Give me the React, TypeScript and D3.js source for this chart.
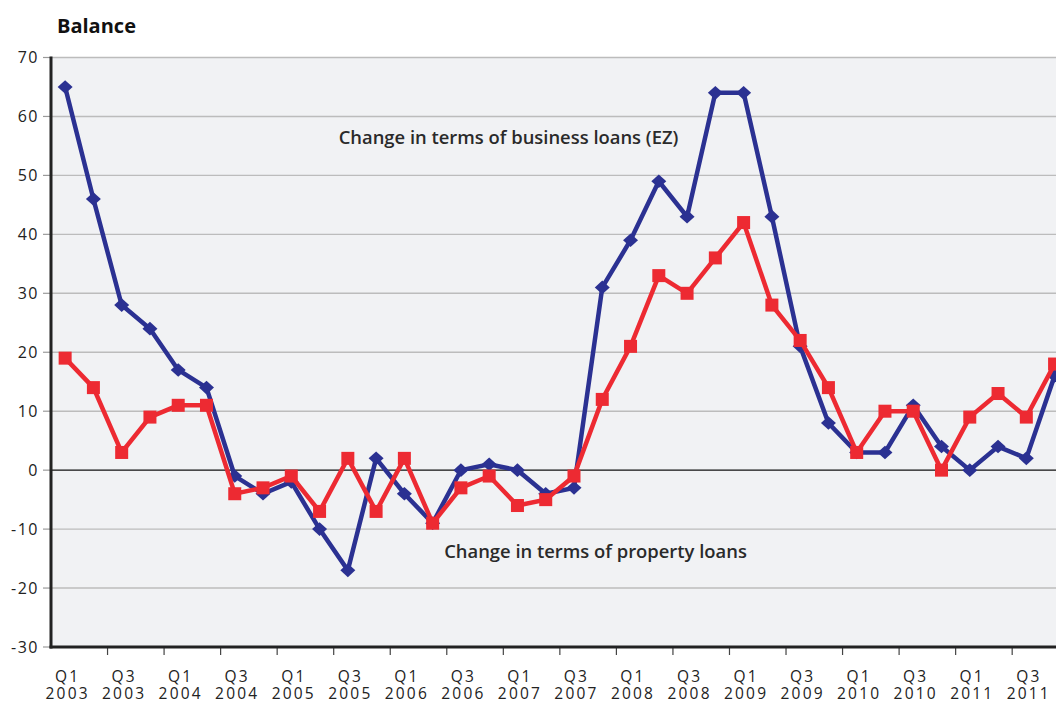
import React from 'react';
import * as d3 from 'd3';

const quarters = [
  'Q1 2003', 'Q2 2003', 'Q3 2003', 'Q4 2003',
  'Q1 2004', 'Q2 2004', 'Q3 2004', 'Q4 2004',
  'Q1 2005', 'Q2 2005', 'Q3 2005', 'Q4 2005',
  'Q1 2006', 'Q2 2006', 'Q3 2006', 'Q4 2006',
  'Q1 2007', 'Q2 2007', 'Q3 2007', 'Q4 2007',
  'Q1 2008', 'Q2 2008', 'Q3 2008', 'Q4 2008',
  'Q1 2009', 'Q2 2009', 'Q3 2009', 'Q4 2009',
  'Q1 2010', 'Q2 2010', 'Q3 2010', 'Q4 2010',
  'Q1 2011', 'Q2 2011', 'Q3 2011', 'Q4 2011',
];

const businessLoans = [
  65, 46, 28, 24,
  17, 14, -1, -4,
  -2, -10, -17, 2,
  -4, -9, 0, 1,
  0, -4, -3, 31,
  39, 49, 43, 64,
  64, 43, 21, 8,
  3, 3, 11, 4,
  0, 4, 2, 16,
];

const propertyLoans = [
  19, 14, 3, 9,
  11, 11, -4, -3,
  -1, -7, 2, -7,
  2, -9, -3, -1,
  -6, -5, -1, 12,
  21, 33, 30, 36,
  42, 28, 22, 14,
  3, 10, 10, 0,
  9, 13, 9, 18,
];

const xTickLabels = [
  'Q1 2003', 'Q3 2003', 'Q1 2004', 'Q3 2004', 'Q1 2005', 'Q3 2005',
  'Q1 2006', 'Q3 2006', 'Q1 2007', 'Q3 2007', 'Q1 2008', 'Q3 2008',
  'Q1 2009', 'Q3 2009', 'Q1 2010', 'Q3 2010', 'Q1 2011', 'Q3 2011',
];

const yTicks = [70, 60, 50, 40, 30, 20, 10, 0, -10, -20, -30];

const W = 1056;
const H = 702;
const left = 51;
const bandW = 28.27;
const right = left + bandW * quarters.length;
const top = 57.5;
const bottom = 647;

const BLUE = '#2b3192';
const RED = '#ed2a32';
const FONT = '"Open Sans", "DejaVu Sans", sans-serif';

export default function App() {
  const x = d3.scaleBand<string>().domain(quarters).range([left, right]).paddingInner(0).paddingOuter(0);
  const y = d3.scaleLinear().domain([-30, 70]).range([bottom, top]);
  const cx = (q: string) => (x(q) as number) + x.bandwidth() / 2;

  const line = d3
    .line<number>()
    .x((_, i) => cx(quarters[i]))
    .y((d) => y(d));

  const diamond = (px: number, py: number) => {
    const hw = 7.5;
    const hh = 6.8;
    return `M${px},${py - hh}L${px + hw},${py}L${px},${py + hh}L${px - hw},${py}Z`;
  };

  const boundaryTicks = d3.range(2, quarters.length, 2).map((i) => x(quarters[i]) as number);

  return (
    <svg width={W} height={H} style={{ position: 'absolute', left: 0, top: 0 }} fontFamily={FONT}>
      <rect x={0} y={0} width={W} height={H} fill="#ffffff" />
      <rect x={left} y={top} width={right - left} height={bottom - top} fill="#f1f2f4" />

      {/* grid lines */}
      {yTicks.map((t) =>
        t === 0 || t === -30 ? null : (
          <line key={'g' + t} x1={left} x2={right} y1={y(t)} y2={y(t)} stroke="#bcbcbc" strokeWidth={1.4} />
        )
      )}
      <line x1={left} x2={right} y1={y(0)} y2={y(0)} stroke="#111" strokeWidth={1.1} />

      {/* y ticks and labels */}
      {yTicks.map((t) => (
        <g key={'y' + t}>
          <line x1={43} x2={left} y1={y(t)} y2={y(t)} stroke="#9a9a9a" strokeWidth={1.2} />
          <text
            x={39}
            y={y(t)}
            dy="0.36em"
            textAnchor="end"
            fontSize={16}
            letterSpacing={1.5}
            fill="#222"
          >
            {String(t)}
          </text>
        </g>
      ))}

      {/* x ticks */}
      {boundaryTicks.map((bx, i) => (
        <line key={'xt' + i} x1={bx} x2={bx} y1={bottom} y2={bottom + 8} stroke="#444" strokeWidth={1.2} />
      ))}

      {/* x labels */}
      {xTickLabels.map((lab) => {
        const [q, yr] = lab.split(' ');
        const px = cx(lab) + 2.5;
        return (
          <g key={lab}>
            <text x={px} y={681.5} textAnchor="middle" fontSize={15.5} letterSpacing={2.2} fill="#222">
              {q}
            </text>
            <text x={px} y={698.5} textAnchor="middle" fontSize={15.5} letterSpacing={2.2} fill="#222">
              {yr}
            </text>
          </g>
        );
      })}

      {/* axes */}
      <line x1={left} x2={left} y1={top - 1} y2={bottom + 1.5} stroke="#222" strokeWidth={3} />
      <line x1={left - 1.5} x2={right} y1={bottom} y2={bottom} stroke="#222" strokeWidth={3} />

      {/* business loans */}
      <path d={line(businessLoans) || ''} fill="none" stroke={BLUE} strokeWidth={4.5} strokeLinejoin="miter" />
      {businessLoans.map((v, i) => (
        <path key={'b' + i} d={diamond(cx(quarters[i]), y(v))} fill={BLUE} />
      ))}

      {/* property loans */}
      <path d={line(propertyLoans) || ''} fill="none" stroke={RED} strokeWidth={4.5} strokeLinejoin="miter" />
      {propertyLoans.map((v, i) => (
        <rect key={'p' + i} x={cx(quarters[i]) - 6.5} y={y(v) - 6.5} width={13} height={13} fill={RED} />
      ))}

      {/* annotations */}
      <text x={508.5} y={144} textAnchor="middle" fontSize={18.4} fontWeight={600} fill="#2a2a2a">
        Change in terms of business loans (EZ)
      </text>
      <text x={595.5} y={558} textAnchor="middle" fontSize={18.4} fontWeight={600} fill="#2a2a2a">
        Change in terms of property loans
      </text>

      {/* title */}
      <text x={57} y={33} fontSize={20} fontWeight={700} fill="#111">
        Balance
      </text>
    </svg>
  );
}
